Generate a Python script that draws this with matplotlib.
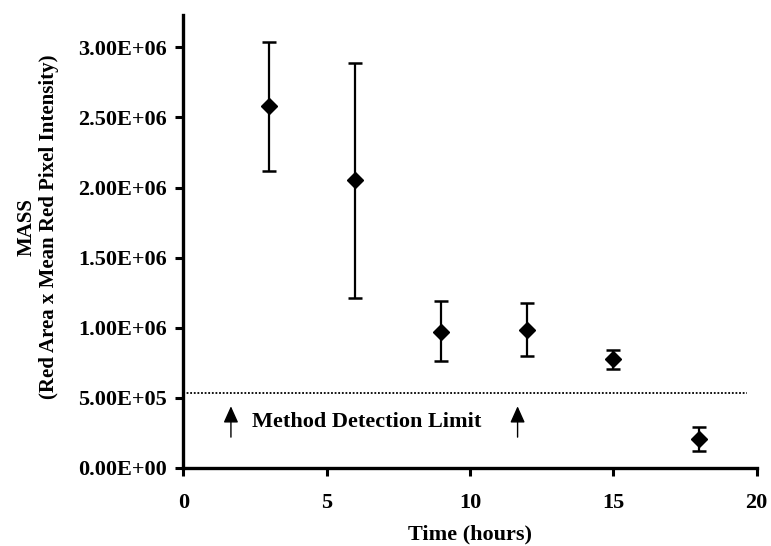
import matplotlib
matplotlib.use("Agg")
import matplotlib.pyplot as plt
from matplotlib.ticker import FuncFormatter

# data
time_h = [3, 6, 9, 12, 15, 18]
mass = [2.58e6, 2.05e6, 0.972e6, 0.985e6, 0.775e6, 0.207e6]
err_up = [0.46e6, 0.84e6, 0.22e6, 0.19e6, 0.066e6, 0.085e6]
err_lo = [0.46e6, 0.84e6, 0.21e6, 0.19e6, 0.07e6, 0.085e6]
detection_limit = 5.35e5
limit_end = 19.65
arrow_x = [1.66, 11.66]

plt.rcParams['font.family'] = ['Liberation Serif', 'DejaVu Serif']
plt.rcParams['font.weight'] = 'bold'


def draw_mass_plot(ax):
    ax.errorbar(time_h, mass, yerr=[err_lo, err_up], fmt='D', color='black',
                markersize=8, elinewidth=1.6, capsize=5, capthick=1.8)
    ax.hlines(detection_limit, 0, limit_end, colors='black',
              linestyles=(0, (1, 1)), linewidth=1.3)
    for x in arrow_x:
        ax.annotate('', xy=(x, 0.44e6), xytext=(x, 0.22e6),
                    arrowprops=dict(arrowstyle='-|>,head_length=1.0,head_width=0.45',
                                    color='black', lw=1.0, shrinkA=0, shrinkB=0))
    ax.text(2.4, 0.325e6, 'Method Detection Limit', fontsize=16,
            fontweight='bold', va='center', ha='left')

    ax.set_xlim(0, 20)
    ax.set_ylim(0, 3.23e6)
    ax.set_xticks([0, 5, 10, 15, 20])
    ax.set_yticks([0, 0.5e6, 1e6, 1.5e6, 2e6, 2.5e6, 3e6])
    ax.yaxis.set_major_formatter(FuncFormatter(lambda v, p: f"{v:.2E}"))
    ax.set_xlabel('Time (hours)', fontsize=16, fontweight='bold', labelpad=8)

    for side in ['top', 'right']:
        ax.spines[side].set_visible(False)
    for side in ['left', 'bottom']:
        ax.spines[side].set_linewidth(2.4)
    ax.tick_params(direction='out', length=6, width=2.2, labelsize=16)
    ax.tick_params(axis='y', pad=6)
    ax.tick_params(axis='x', pad=12)
    for lab in ax.get_xticklabels() + ax.get_yticklabels():
        lab.set_fontweight('bold')


if __name__ == '__main__':
    fig = plt.figure(figsize=(7.71, 5.46), dpi=100)
    ax = fig.add_axes([0.2378, 0.1429, 0.7436, 0.8296])
    draw_mass_plot(ax)
    # y label as figure text so both lines stay centred
    fig.text(0.049, 0.585, 'MASS\n(Red Area x Mean Red Pixel Intensity)',
             rotation=90, ha='center', va='center', multialignment='center',
             fontsize=15, fontweight='bold', linespacing=1.15)
    fig.savefig('out.png', dpi=100)
